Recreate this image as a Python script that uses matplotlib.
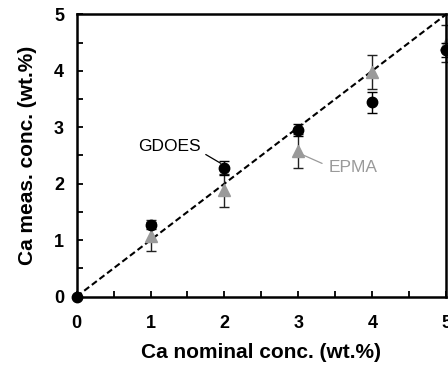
import numpy as np
import matplotlib.pyplot as plt
import matplotlib

matplotlib.rcParams['font.family'] = ['Liberation Sans', 'DejaVu Sans']

nominal = np.array([0, 1, 2, 3, 4, 5])
gdoes = np.array([0, 1.26, 2.28, 2.95, 3.44, 4.37])
gdoes_err = np.array([0, 0.06, 0.12, 0.10, 0.18, 0.12])
epma_x = np.array([1, 2, 3, 4, 5])
epma = np.array([1.08, 1.88, 2.58, 3.98, 4.48])
epma_err = np.array([0.28, 0.29, 0.30, 0.30, 0.33])

fig = plt.figure(figsize=(4.48, 3.67), dpi=100, facecolor='white')
ax = fig.add_axes([0.171, 0.192, 0.825, 0.769])

# 1:1 line
ax.plot([0, 5], [0, 5], ls=(0, (3, 1.6)), color='black', lw=1.5, zorder=1)
ax.errorbar(epma_x, epma, yerr=epma_err, fmt='^', color='#9a9a9a', ecolor='#222222',
            elinewidth=1, capsize=3.5, capthick=1, markersize=9, zorder=2, clip_on=False)
ax.errorbar(nominal, gdoes, yerr=gdoes_err, fmt='o', color='black', ecolor='black',
            elinewidth=1, capsize=3.5, capthick=1, markersize=7.5, zorder=3, clip_on=False)

ax.annotate('GDOES', xy=(1.95, 2.36), xytext=(0.83, 2.65), fontsize=12.5,
            color='black', va='center',
            arrowprops=dict(arrowstyle='-', color='black', lw=0.9, relpos=(1, 0.2),
                            shrinkA=2, shrinkB=0))
ax.annotate('EPMA', xy=(3.06, 2.51), xytext=(3.41, 2.28), fontsize=12.5,
            color='#9a9a9a', va='center',
            arrowprops=dict(arrowstyle='-', color='#9a9a9a', lw=0.9, relpos=(0, 0.6),
                            shrinkA=3, shrinkB=0))

ax.set_xlim(0, 5)
ax.set_ylim(0, 5)
ax.set_xticks(np.arange(0, 6, 1))
ax.set_yticks(np.arange(0, 6, 1))
ax.set_xticks(np.arange(0, 5.1, 0.5), minor=True)
ax.set_yticks(np.arange(0, 5.1, 0.5), minor=True)
ax.tick_params(which='both', direction='in', width=1.3, length=4, labelsize=13)
ax.tick_params(axis='x', pad=13)
ax.tick_params(axis='y', pad=9)
for lab in ax.get_xticklabels() + ax.get_yticklabels():
    lab.set_fontweight('bold')
for s in ax.spines.values():
    s.set_linewidth(1.8)

ax.set_xlabel('Ca nominal conc. (wt.%)', fontsize=15, fontweight='bold', labelpad=8)
ax.set_ylabel('Ca meas. conc. (wt.%)', fontsize=15, fontweight='bold', labelpad=12)

fig.savefig('out.png', dpi=100)
